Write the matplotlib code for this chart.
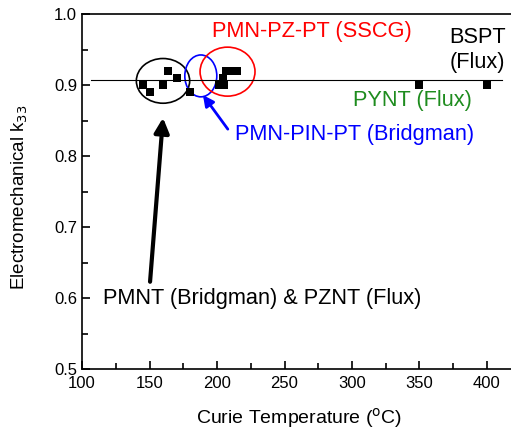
import matplotlib.pyplot as plt
from matplotlib.patches import Ellipse
from matplotlib.ticker import MultipleLocator

plt.rcParams['font.family'] = ['Liberation Sans', 'DejaVu Sans']

# Curie temperature (C) and k33 for the single crystals
tc = [145, 150, 160, 164, 170, 180,
      201.5, 205.5, 204.5, 207, 211.5, 215,
      350, 400]
k33 = [0.90, 0.89, 0.90, 0.92, 0.91, 0.89,
       0.90, 0.90, 0.91, 0.92, 0.92, 0.92,
       0.90, 0.90]

# reference level drawn across the plot
k33_ref = 0.907
ref_span = [107, 411]

fig = plt.figure(figsize=(5.11, 4.42), dpi=100)
ax = fig.add_axes([0.1605, 0.165, 0.848, 0.803])

ax.plot(ref_span, [k33_ref, k33_ref], color='black', lw=0.8, zorder=2)
ax.scatter(tc, k33, marker='s', s=30, color='black', linewidths=0, zorder=3)

# groups circled by family
ax.add_patch(Ellipse((160, 0.906), 39.5, 0.063, fill=False, ec='black', lw=1.2))
ax.add_patch(Ellipse((188, 0.913), 23.7, 0.059, fill=False, ec='blue', lw=1.2))
ax.add_patch(Ellipse((207.8, 0.919), 40.7, 0.069, fill=False, ec='red', lw=1.2))

fs = 15.7
ax.text(270, 0.976, 'PMN-PZ-PT (SSCG)', color='red', fontsize=fs, ha='center', va='center')
ax.text(393, 0.950, 'BSPT\n(Flux)', color='black', fontsize=fs, ha='center', va='center',
        linespacing=1.25)
ax.text(344.8, 0.879, 'PYNT (Flux)', color='#1e8c1e', fontsize=fs, ha='center', va='center')
ax.text(213, 0.830, 'PMN-PIN-PT (Bridgman)', color='blue', fontsize=fs, ha='left', va='center')
ax.text(115.5, 0.600, 'PMNT (Bridgman) & PZNT (Flux)', color='black', fontsize=fs,
        ha='left', va='center')

ax.annotate('', xy=(160, 0.854), xytext=(150.4, 0.623),
            arrowprops=dict(arrowstyle='-|>', color='black', lw=3, mutation_scale=22,
                            shrinkA=0, shrinkB=0))
ax.annotate('', xy=(189.6, 0.886), xytext=(208, 0.838),
            arrowprops=dict(arrowstyle='-|>', color='blue', lw=2, mutation_scale=16,
                            shrinkA=0, shrinkB=0))

ax.set_xlim(100, 421)
ax.set_ylim(0.5, 1.0)
ax.xaxis.set_major_locator(MultipleLocator(50))
ax.xaxis.set_minor_locator(MultipleLocator(25))
ax.yaxis.set_major_locator(MultipleLocator(0.1))
ax.yaxis.set_minor_locator(MultipleLocator(0.05))
ax.yaxis.set_major_formatter(plt.FormatStrFormatter('%.1f'))
ax.tick_params(which='both', direction='in', labelsize=12, width=1.2)
ax.tick_params(which='major', length=6)
ax.tick_params(which='minor', length=4)
ax.tick_params(axis='x', pad=5)
ax.tick_params(top=False, right=False)
for side in ax.spines.values():
    side.set_linewidth(1.2)

ax.set_xlabel('Curie Temperature ($^{\\mathrm{o}}$C)', fontsize=14, labelpad=11)
ax.set_ylabel('Electromechanical k$_{33}$', fontsize=13.5)
ax.yaxis.set_label_coords(-0.12, 0.485)

fig.savefig('out.png', dpi=100)
